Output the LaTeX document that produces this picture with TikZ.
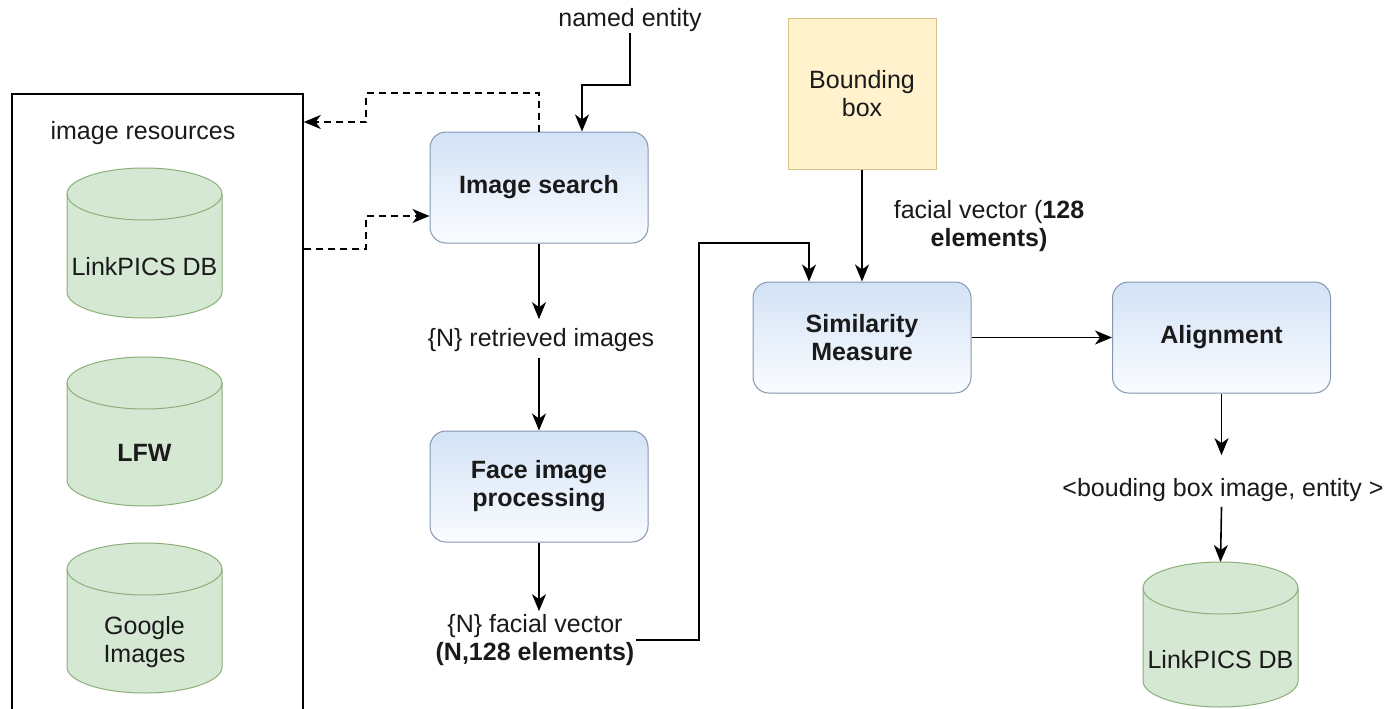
\documentclass[tikz,border=0pt]{standalone}
\usepackage{fontspec}
\setmainfont{Liberation Sans}
\usetikzlibrary{arrows.meta,backgrounds,calc}
\definecolor{txt}{HTML}{1A1A1A}
\definecolor{proctop}{HTML}{D3E2F6}
\definecolor{procbot}{HTML}{FAFCFF}
\definecolor{procline}{HTML}{8497B0}
\definecolor{cylfill}{HTML}{D5E8D4}
\definecolor{cylline}{HTML}{8CAF78}
\definecolor{bbfill}{HTML}{FFF2CC}
\definecolor{bbline}{HTML}{D6C28A}
\newcommand\dbcyl[1]{%
  \path[fill=cylfill,draw=cylline,line width=1pt] ([yshift=-26pt]#1.north west) -- ([yshift=26pt]#1.south west)
    arc[start angle=180,end angle=360,x radius=77.5pt,y radius=26pt]
    -- ([yshift=-26pt]#1.north east)
    arc[start angle=0,end angle=180,x radius=77.5pt,y radius=26pt] -- cycle;
  \draw[draw=cylline,line width=1pt] ([yshift=-26pt]#1.north west)
    arc[start angle=180,end angle=360,x radius=77.5pt,y radius=26pt];}
\begin{document}
\begin{tikzpicture}[x=1pt,y=1pt,
  every node/.style={font=\fontsize{25}{28}\selectfont, text=txt},
  proc/.style={draw=procline, line width=1pt, rounded corners=16pt,
    top color=proctop, bottom color=procbot, minimum width=218pt,
    minimum height=111pt, align=center, inner sep=0pt,
    font=\fontsize{25}{28}\selectfont\bfseries},
  cylnode/.style={minimum width=155pt, inner sep=0pt, outer sep=0pt},
  lbl/.style={align=center, inner sep=1pt},
  arr/.style={-{Stealth[length=17pt,width=14pt,inset=5pt]}, line width=1.6pt, black},
  darr/.style={arr, dash pattern=on 7pt off 5pt},
]
\useasboundingbox (0,0) rectangle (1389,-709);

% image resources container
\node[draw, line width=1.5pt, minimum width=291pt, minimum height=618pt, inner sep=0pt] (res) at (157.5,-403) {};
\node[lbl] (restitle) at (143,-133) {image resources};
\node[cylnode, minimum height=150pt, label={[yshift=-24pt]center:LinkPICS DB}] (db1) at (144.5,-243) {};
\node[cylnode, minimum height=149pt, label={[yshift=-21pt]center:\textbf{LFW}}] (db2) at (144.5,-431.5) {};
\node[cylnode, minimum height=150pt, label={[yshift=-24pt,align=center]center:Google\\Images}] (db3) at (144.5,-618) {};

% main pipeline
\node[lbl] (ne) at (630,-20) {named entity};
\node[proc] (search) at (539,-187.5) {Image search};
\node[lbl] (ret) at (541,-340) {\{N\} retrieved images};
\node[proc] (face) at (539,-486.5) {Face image\\processing};
\node[lbl] (vec) at (535,-640) {\{N\} facial vector\\\textbf{(N,128 elements)}};

\node[draw=bbline, fill=bbfill, line width=1pt, minimum width=148pt, minimum height=150pt, align=center, inner sep=0pt] (bb) at (862,-94) {Bounding\\box};
\node[lbl] (fv) at (989,-226) {facial vector (\textbf{128}\\\textbf{elements)}};
\node[proc] (sim) at (862,-337.5) {Similarity\\Measure};
\node[proc] (ali) at (1221.5,-337.5) {Alignment};
\node[lbl] (bbl) at (1223,-490) {<bouding box image, entity >};
\node[cylnode, minimum height=145pt, label={[yshift=-25.5pt]center:LinkPICS DB}] (db4) at (1220.5,-634.5) {};

\begin{pgfonlayer}{background}
\fill[white] (0,0) rectangle (1389,-709);
\dbcyl{db1}
\dbcyl{db2}
\dbcyl{db3}
\dbcyl{db4}
\end{pgfonlayer}

% connectors
\coordinate (k1) at (582,-85);
\draw[arr] (ne.south) |- (k1) -- (k1 |- search.north);

\coordinate (r1) at (0,-122);
\coordinate (d1) at (366,-93);
\draw[darr] (search.north) |- (d1) |- (res.east |- r1);

\coordinate (r2) at (0,-249);
\coordinate (d2) at (366,-216);
\draw[darr] (res.east |- r2) -| (d2) -- (search.west |- d2);

\draw[arr] (search.south) -- ([yshift=8pt]search.south |- ret.north);
\draw[arr] ([yshift=-5pt]search.south |- ret.south) -- (face.north);
\draw[arr] (face.south) -- ([yshift=2pt]face.south |- vec.north);

\coordinate (k2) at (699,-243);
\coordinate (k3) at (809,0);
\draw[arr] (vec.east) -| (k2) -| (k3 |- sim.north);

\draw[arr] (bb.south) -- (sim.north);
\draw[arr] (sim.east) -- (ali.west);
\draw[arr] (ali.south) -- ([yshift=22pt]ali.south |- bbl.north);
\draw[arr] ([yshift=-4pt]ali.south |- bbl.south) -- (db4.north);
\end{tikzpicture}
\end{document}
